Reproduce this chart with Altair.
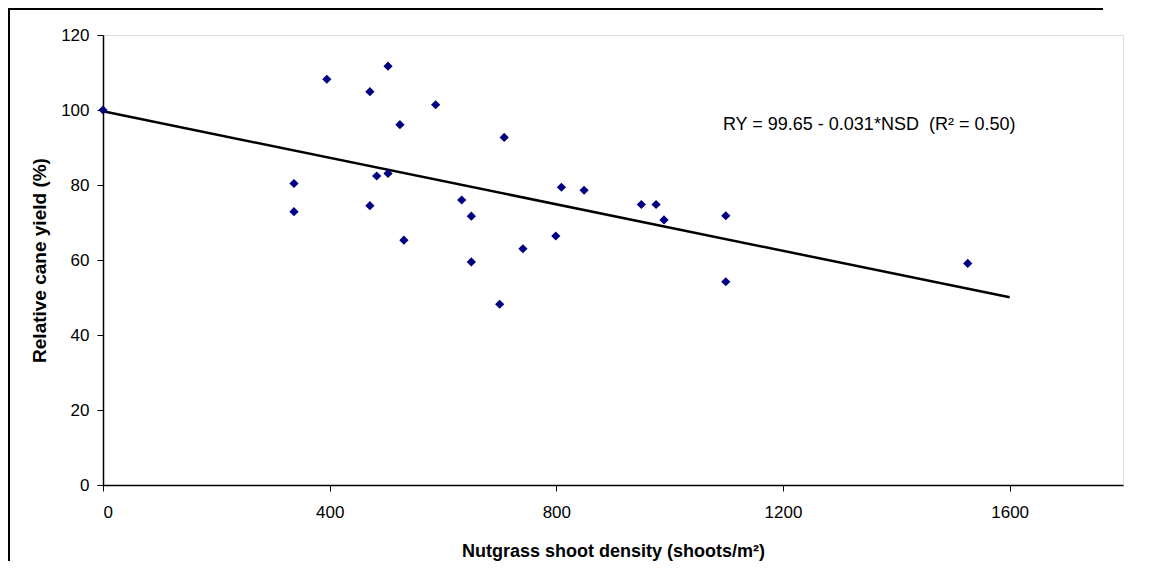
import altair as alt
import pandas as pd

# Data
nsd = [0, 337, 337, 395, 471, 471, 483, 503, 503, 524, 531, 587, 633, 650, 650,
       700, 708, 741, 799, 809, 849, 950, 976, 990, 1099, 1099, 1526]
ry = [100, 80.4, 72.9, 108.2, 104.9, 74.5, 82.4, 111.7, 83.1, 96.1, 65.3, 101.4,
      76.0, 71.7, 59.5, 48.2, 92.7, 63.0, 66.4, 79.4, 78.6, 74.8, 74.8, 70.7,
      71.8, 54.2, 59.1]

intercept = 99.65
slope = -0.031
fit_x = [0, 1600]
fit_y = [intercept + slope * v for v in fit_x]

x_ticks = [0, 400, 800, 1200, 1600]
y_ticks = [0, 20, 40, 60, 80, 100, 120]

eq_text = ["RY = 99.65 - 0.031*NSD\u00a0 (R\u00b2 = 0.50)"]
eq_x = [1094]
eq_y = [96]

pts = pd.DataFrame({"NSD": nsd, "RY": ry})
fit = pd.DataFrame({"NSD": fit_x, "RY": fit_y})
ann = pd.DataFrame({"NSD": eq_x, "RY": eq_y, "label": eq_text})

FONT = "Liberation Sans"

xscale = alt.Scale(domain=[0, 1800], nice=False, zero=False)
yscale = alt.Scale(domain=[0, 120], nice=False)

xenc = alt.X("NSD:Q", scale=xscale,
             axis=alt.Axis(values=x_ticks, title="Nutgrass shoot density (shoots/m\u00b2)",
                           grid=False, domainColor="black", domainWidth=1.5,
                           tickColor="black", tickSize=6, labelPadding=13,
                           labelFontSize=17, labelFont=FONT, labelColor="black",
                           titleFont=FONT, titleFontSize=18, titleFontWeight="bold",
                           titleColor="black", titlePadding=22, format="d"))
yenc = alt.Y("RY:Q", scale=yscale,
             axis=alt.Axis(values=y_ticks, title="Relative cane yield (%)",
                           grid=False, domainColor="black", domainWidth=1.5,
                           tickColor="black", tickSize=6, labelPadding=8,
                           labelFontSize=17, labelFont=FONT, labelColor="black",
                           titleFont=FONT, titleFontSize=19, titleFontWeight="bold",
                           titleColor="black", titlePadding=11, format="d"))

line = alt.Chart(fit).mark_line(color="black", strokeWidth=2.5).encode(x=xenc, y=yenc)

points = alt.Chart(pts).mark_point(shape="diamond", filled=True, color="#000080",
                                   size=85, opacity=1).encode(x="NSD:Q", y="RY:Q")

text = alt.Chart(ann).mark_text(align="left", baseline="middle", font=FONT,
                                fontSize=18, color="black").encode(
    x="NSD:Q", y="RY:Q", text="label:N")

# outer chart frame: left and top edges only
frame_left = alt.Chart(ann).mark_rule(color="black", strokeWidth=2).encode(
    x=alt.value(-94), y=alt.value(-27), y2=alt.value(530))
frame_top = alt.Chart(ann).mark_rule(color="black", strokeWidth=2).encode(
    x=alt.value(-95), x2=alt.value(1000), y=alt.value(-26))

chart = alt.layer(frame_left, frame_top, line, points, text).properties(
    width=1020, height=450,
    padding={"left": 95, "top": 27, "right": 15, "bottom": 76},
    autosize=alt.AutoSizeParams(type="none"),
).configure_view(stroke="#999999", strokeWidth=2).configure(background="white")

chart.save("out.html", embed_options={"renderer": "svg", "actions": False})
